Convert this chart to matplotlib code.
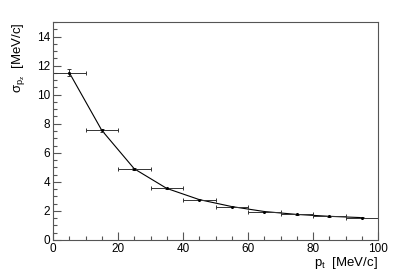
import numpy as np
import matplotlib
matplotlib.use("Agg")
import matplotlib.pyplot as plt
from matplotlib.ticker import MultipleLocator

plt.rcParams['font.family'] = ['Liberation Sans', 'DejaVu Sans']

# --- data ---
pt      = [5, 15, 25, 35, 45, 55, 65, 75, 85, 95]
pt_err  = [5, 5, 5, 5, 5, 5, 5, 5, 5, 5]
sigma   = [11.52, 7.55, 4.9, 3.55, 2.78, 2.3, 1.96, 1.76, 1.63, 1.54]
sig_err = [0.25, 0.12, 0.08, 0.06, 0.05, 0.04, 0.04, 0.03, 0.03, 0.03]

fig = plt.figure(figsize=(4.07, 2.76), dpi=100)
ax = fig.add_axes([53/407, 36/276, 325/407, 218/276])

ax.plot(pt, sigma, color='black', lw=0.8)
ax.errorbar(pt, sigma, xerr=pt_err, yerr=sig_err, fmt='none', ecolor='#333333',
            elinewidth=0.7, capsize=1.5, capthick=0.7)
ax.plot(pt, sigma, 'o', color='black', ms=1.2)

ax.set_xlim(0, 100)
ax.set_ylim(0, 15)
ax.xaxis.set_major_locator(MultipleLocator(20))
ax.xaxis.set_minor_locator(MultipleLocator(5))
ax.yaxis.set_major_locator(MultipleLocator(2))
ax.yaxis.set_minor_locator(MultipleLocator(0.5))
ax.tick_params(which='both', direction='in', top=False, right=False, labelsize=8.5, width=0.8, color='#555555')
ax.tick_params(which='major', length=6)
ax.tick_params(which='minor', length=3)
ax.tick_params(axis='x', pad=2)
ax.tick_params(axis='y', pad=2)
for s in ax.spines.values():
    s.set_linewidth(0.8)
    s.set_color('#555555')

ax.set_xlabel(r'p$_{\mathregular{t}}$  [MeV/c]', fontsize=9.5, loc='right', labelpad=0)
ax.set_ylabel(r'$\mathregular{\sigma}_{\mathregular{p_z}}$  [MeV/c]', fontsize=9.5, loc='top', labelpad=7)

fig.savefig('out.png', dpi=100)
